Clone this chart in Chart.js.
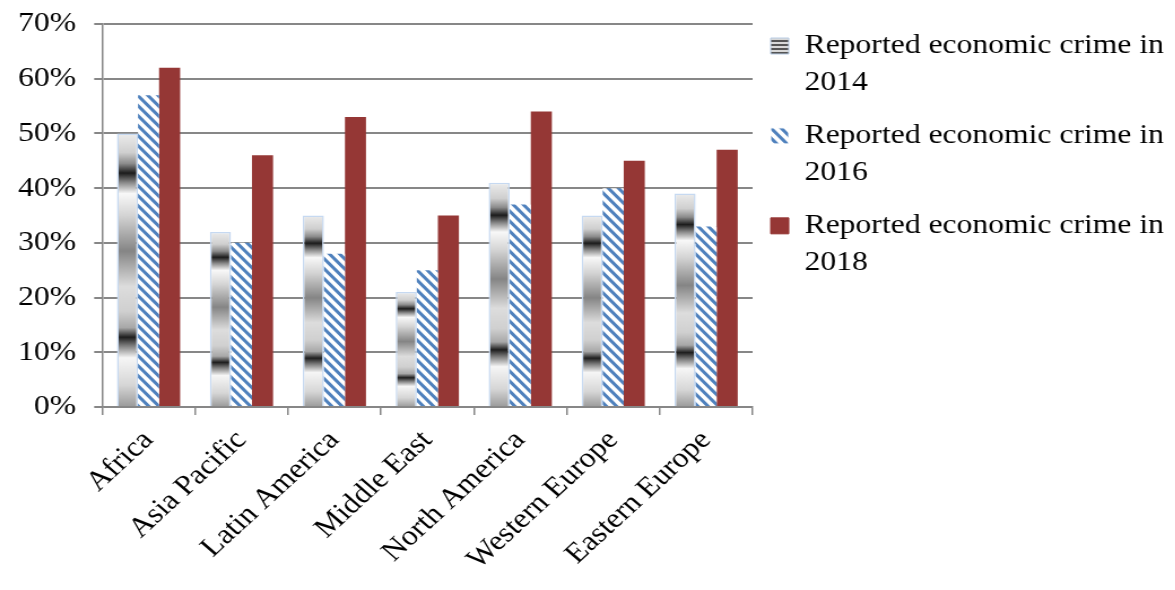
<!DOCTYPE html>
<html>
<head>
<meta charset="utf-8">
<script src="https://cdn.jsdelivr.net/npm/chart.js@4.4.1/dist/chart.umd.min.js"></script>
<style>
  html, body { margin: 0; padding: 0; background: #fff; overflow: hidden; }
  #wrap { width: 1175px; height: 590px; }
  /* la référence est légèrement étirée en largeur */
  #chart { transform: scaleX(1.13); transform-origin: 0 0; }
</style>
</head>
<body>
<div id="wrap"><canvas id="chart" width="1040" height="590"></canvas></div>
<script>
// Données
const categories = ['Africa', 'Asia Pacific', 'Latin America', 'Middle East', 'North America', 'Western Europe', 'Eastern Europe'];
const crime2014 = [50, 32, 35, 21, 41, 35, 39];
const crime2016 = [57, 30, 28, 25, 37, 40, 33];
const crime2018 = [62, 46, 53, 35, 54, 45, 47];
const seriesLabels = ['Reported economic crime in 2014', 'Reported economic crime in 2016', 'Reported economic crime in 2018'];
const yTicks = [0, 10, 20, 30, 40, 50, 60, 70];

const gridColor = '#878787';
const serif = "'Liberation Serif', 'Times New Roman', serif";

// Motif hachuré bleu (2016)
function stripePattern(w, h, lw) {
    const c = document.createElement('canvas');
    c.width = w; c.height = h;
    const g = c.getContext('2d');
    g.fillStyle = '#fff';
    g.fillRect(0, 0, w, h);
    g.strokeStyle = '#4f81bd';
    g.lineWidth = lw;
    g.beginPath();
    for (let k = -1; k <= 1; k++) {
        g.moveTo(k * w - w, -h); g.lineTo(k * w + 2 * w, 2 * h);
    }
    g.stroke();
    return g.createPattern(c, 'repeat');
}

// Petit motif à bandes grises pour la légende (2014)
function bandPattern() {
    const c = document.createElement('canvas');
    c.width = 4; c.height = 4;
    const g = c.getContext('2d');
    g.fillStyle = '#d8d8d8';
    g.fillRect(0, 0, 4, 4);
    g.fillStyle = '#555';
    g.fillRect(0, 0, 4, 2);
    return g.createPattern(c, 'repeat');
}

const stripes = stripePattern(9, 10, 3);
const bands = bandPattern();

// Dégradé métallique vertical, relatif à la hauteur de chaque barre
const metalStops = [
    [0.00, '#9a9a9a'], [0.08, '#d6d6d6'], [0.18, '#f6f6f6'], [0.225, '#7a7a7a'],
    [0.255, '#1e1e1e'], [0.29, '#a8a8a8'], [0.35, '#d0d0d0'], [0.44, '#dddddd'],
    [0.57, '#858585'], [0.70, '#d4d4d4'], [0.78, '#f8f8f8'], [0.82, '#8a8a8a'],
    [0.855, '#1c1c1c'], [0.89, '#8c8c8c'], [0.93, '#cfcfcf'], [1.00, '#ececec']
];

function metalFill(context) {
    const chart = context.chart;
    const y = chart.scales && chart.scales.y;
    if (context.type !== 'data' || !y || !context.parsed) return '#bdbdbd';
    const top = y.getPixelForValue(context.parsed.y);
    const base = y.getPixelForValue(0);
    if (!isFinite(top) || !isFinite(base) || top === base) return '#bdbdbd';
    const g = chart.ctx.createLinearGradient(0, base, 0, top);
    metalStops.forEach(s => g.addColorStop(s[0], s[1]));
    return g;
}

const swatches = [bands, stripes, '#953735'];
const swatchBorders = ['#b8cce4', '#ffffff', '#953735'];

function splitLabel(text) {
    const i = text.lastIndexOf(' ');
    return [text.substring(0, i), text.substring(i + 1)];
}

const ctx = document.getElementById('chart').getContext('2d');
new Chart(ctx, {
    type: 'bar',
    data: {
        labels: categories,
        datasets: [
            {
                label: seriesLabels[0],
                data: crime2014,
                backgroundColor: metalFill,
                borderColor: '#c6d9f1',
                borderWidth: 1.5
            },
            {
                label: seriesLabels[1],
                data: crime2016,
                backgroundColor: stripes,
                borderWidth: 0
            },
            {
                label: seriesLabels[2],
                data: crime2018,
                backgroundColor: '#953735',
                borderWidth: 0
            }
        ]
    },
    options: {
        responsive: false,
        animation: false,
        devicePixelRatio: 1,
        categoryPercentage: 0.68,
        barPercentage: 1,
        layout: { padding: { top: 0, left: 0, right: 0, bottom: 0 } },
        scales: {
            x: {
                offset: true,
                afterFit: scale => { scale.height = 183; scale.paddingLeft = 0; },
                grid: {
                    offset: true,
                    drawOnChartArea: false,
                    drawTicks: true,
                    tickLength: 8,
                    color: gridColor,
                    lineWidth: 1.5
                },
                border: { color: gridColor, width: 1.5 },
                ticks: {
                    minRotation: 46,
                    maxRotation: 46,
                    padding: 9,
                    color: '#000',
                    font: { family: serif, size: 28 }
                }
            },
            y: {
                min: 0,
                max: 70,
                afterBuildTicks: scale => { scale.ticks = yTicks.map(v => ({ value: v })); },
                afterFit: scale => { scale.paddingTop = 24; },
                grid: {
                    color: gridColor,
                    lineWidth: 2,
                    drawTicks: true,
                    tickLength: 7
                },
                border: { color: gridColor, width: 1.5 },
                ticks: {
                    padding: 16,
                    color: '#000',
                    font: { family: serif, size: 28 },
                    callback: v => v + '%'
                }
            }
        },
        plugins: {
            tooltip: { enabled: false },
            legend: {
                position: 'right',
                align: 'start',
                maxWidth: 420,
                title: { display: true, text: ' ', padding: 0, font: { size: 16, lineHeight: 1 } },
                labels: {
                    color: '#000',
                    boxWidth: 16,
                    boxHeight: 16,
                    padding: 16,
                    font: { family: serif, size: 28, lineHeight: 1.32 },
                    generateLabels: chart => {
                        const items = Chart.defaults.plugins.legend.labels.generateLabels(chart);
                        items.forEach((it, i) => {
                            it.text = splitLabel(seriesLabels[i]);
                            it.fillStyle = swatches[i];
                            it.strokeStyle = swatchBorders[i];
                            it.lineWidth = 1;
                        });
                        return items;
                    }
                }
            }
        }
    }
});
</script>
</body>
</html>
